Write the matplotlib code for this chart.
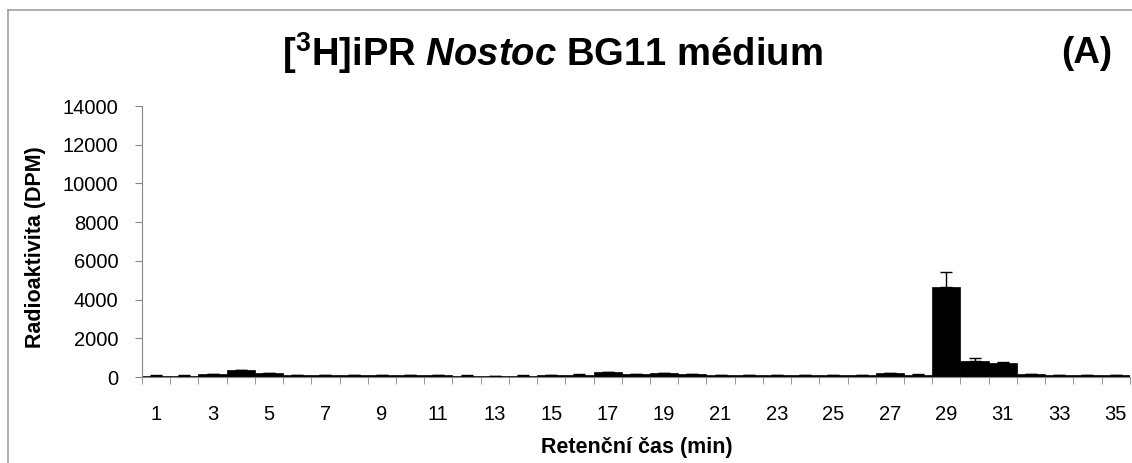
import matplotlib
matplotlib.use("Agg")
import matplotlib.pyplot as plt
import numpy as np
from matplotlib.lines import Line2D

plt.rcParams['font.family'] = ['Liberation Sans', 'DejaVu Sans']
plt.rcParams['mathtext.fontset'] = 'custom'
plt.rcParams['mathtext.rm'] = 'Liberation Sans:bold'
plt.rcParams['mathtext.it'] = 'Liberation Sans:bold:italic'
plt.rcParams['mathtext.bf'] = 'Liberation Sans:bold'

categories = list(range(1, 36))
values = [60, 70, 140, 360, 200, 80, 90, 90, 80, 90,
          80, 70, 60, 70, 80, 130, 250, 160, 190, 150,
          110, 110, 110, 90, 80, 80, 200, 120, 4650, 850,
          750, 140, 100, 90, 80]
errors = [20, 20, 20, 20, 20, 10, 10, 10, 20, 10,
          10, 10, 10, 10, 10, 10, 10, 20, 20, 20,
          10, 10, 10, 10, 10, 10, 10, 20, 750, 150,
          20, 10, 10, 10, 10]
tick_labels = [str(c) if c % 2 == 1 else '' for c in categories]

fig = plt.figure(figsize=(11.32, 4.63), dpi=100)
ax = fig.add_axes([0.1254, 0.1857, 0.8726, 0.5853])

x = np.arange(len(categories))
ax.bar(x, values, width=1.0, color='black', edgecolor='black', linewidth=0.5)
ax.errorbar(x, values, yerr=[np.zeros(len(errors)), errors], fmt='none',
            ecolor='black', elinewidth=1, capsize=4.5, capthick=1)

ax.set_xlim(-0.5, len(categories) - 0.5)
ax.set_ylim(0, 14000)
ax.set_yticks(np.arange(0, 14001, 2000))
ax.tick_params(axis='y', labelsize=14.5, length=5, color='#868686', pad=12)

ax.set_xticks(x[::2])
ax.set_xticklabels([tick_labels[i] for i in x[::2]])
ax.set_xticks(np.arange(-0.5, len(categories), 1), minor=True)
ax.tick_params(axis='x', which='major', length=0, labelsize=14.5, pad=20)
ax.tick_params(axis='x', which='minor', length=5, color='#868686')

for s in ['top', 'right']:
    ax.spines[s].set_visible(False)
ax.spines['left'].set_color('#868686')
ax.spines['bottom'].set_color('#868686')

ax.set_ylabel('Radioaktivita (DPM)', fontsize=15.5, fontweight='bold')
ax.yaxis.set_label_coords(-0.097, 0.48)
ax.set_xlabel('Retenční čas (min)', fontsize=15.5, fontweight='bold')
ax.xaxis.set_label_coords(0.501, -0.222)

fig.text(0.488, 0.885, r'[$^{3}$H]iPR $\it{Nostoc}$ BG11 médium',
         ha='center', va='center', fontsize=27.5, fontweight='bold')
fig.text(0.960, 0.885, '(A)', ha='center', va='center', fontsize=26.5, fontweight='bold')

# outer border
fig.add_artist(Line2D([8/1132, 1.0], [1 - 10/463, 1 - 10/463], transform=fig.transFigure,
                      color='#a0a0a0', linewidth=1.2))
fig.add_artist(Line2D([8/1132, 8/1132], [0, 1 - 10/463], transform=fig.transFigure,
                      color='#a0a0a0', linewidth=1.2))

fig.savefig('out.png', dpi=100)
